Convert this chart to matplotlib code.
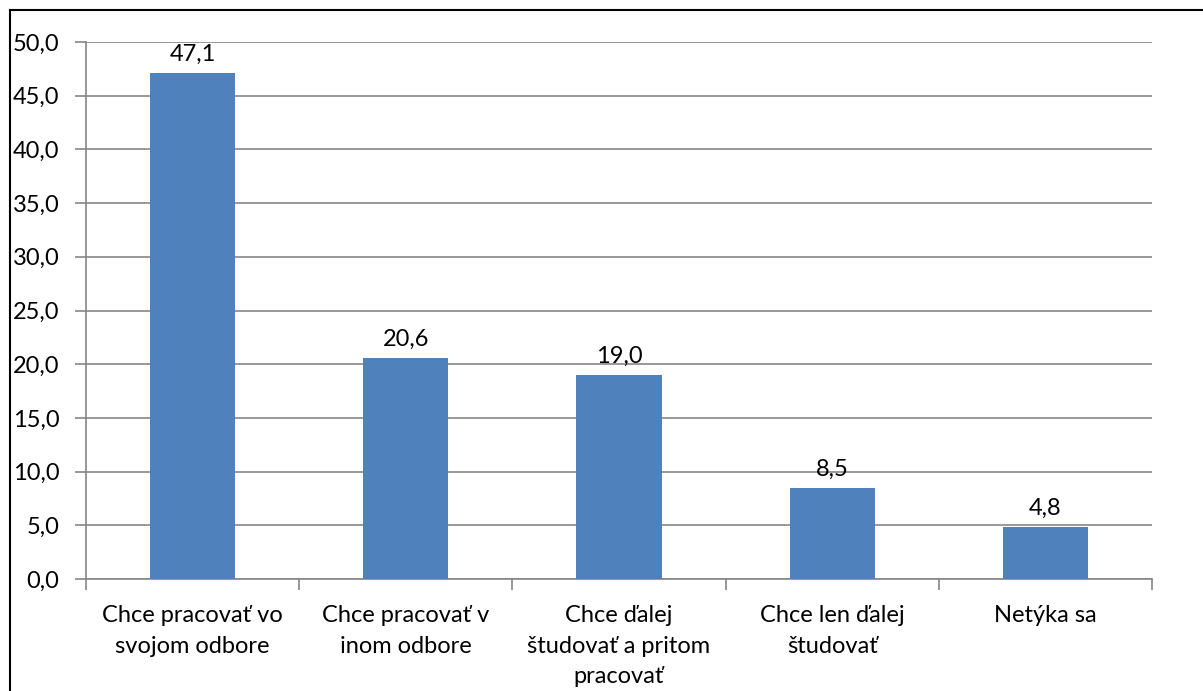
import matplotlib.pyplot as plt
from matplotlib.lines import Line2D

categories = ["Chce pracovať vo\nsvojom odbore", "Chce pracovať v\ninom odbore",
              "Chce ďalej\nštudovať a pritom\npracovať", "Chce len ďalej\nštudovať",
              "Netýka sa"]
values = [47.1, 20.6, 19.0, 8.5, 4.8]
yticks = [0, 5, 10, 15, 20, 25, 30, 35, 40, 45, 50]

plt.rcParams['font.family'] = ['Lato', 'DejaVu Sans']
fs = 17

W, H = 1203, 691
fig = plt.figure(figsize=(W / 100, H / 100), dpi=100)
ax = fig.add_axes([86 / W, 1 - 579 / H, (1152 - 86) / W, (579 - 42) / H])

grid_c = '#868686'
x = list(range(len(values)))
ax.bar(x, values, width=0.4, color='#4F81BD', zorder=3)
for xi, v in zip(x, values):
    ax.annotate(f"{v:.1f}".replace('.', ','), (xi, v), xytext=(0, 6),
                textcoords='offset points', ha='center', va='bottom', fontsize=fs)

ax.set_xlim(-0.5, len(values) - 0.5)
ax.set_ylim(0, 50)
ax.set_yticks(yticks)
ax.set_yticklabels([f"{t:.1f}".replace('.', ',') for t in yticks], fontsize=fs)
ax.yaxis.grid(True, color=grid_c, linewidth=1.2, zorder=0)
ax.set_xticks([i - 0.5 for i in range(len(values) + 1)])
ax.set_xticklabels([])
ax.set_xticks(x, minor=True)
ax.set_xticklabels(categories, minor=True, fontsize=fs, linespacing=1.55, va='top')
ax.tick_params(axis='x', which='minor', length=0, pad=19)
ax.tick_params(axis='x', which='major', length=8, color=grid_c, width=1.2)
ax.tick_params(axis='y', length=8, color=grid_c, width=1.2, pad=11)

for s in ['top', 'right']:
    ax.spines[s].set_visible(False)
for s in ['left', 'bottom']:
    ax.spines[s].set_color(grid_c)
    ax.spines[s].set_linewidth(1.2)

# outer chart border (top and left visible)
fig.add_artist(Line2D([9.5 / W, 9.5 / W], [0, 1 - 10 / H], color='black', lw=1.5))
fig.add_artist(Line2D([9.5 / W, 1], [1 - 10 / H, 1 - 10 / H], color='black', lw=1.5))

fig.savefig("out.png", dpi=100)
